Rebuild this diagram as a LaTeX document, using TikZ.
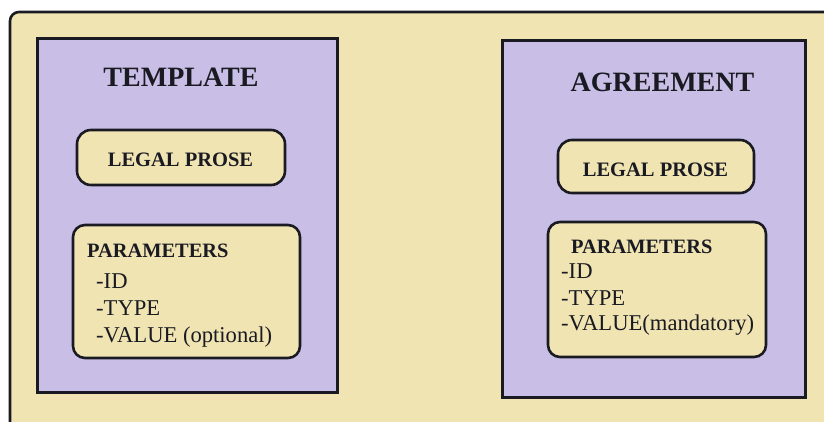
\documentclass[tikz,border=0pt]{standalone}
\usepackage{fontspec}
\setmainfont{Liberation Serif}
\definecolor{beige}{HTML}{F0E4B2}
\definecolor{lilac}{HTML}{C9BFE6}
\definecolor{ink}{HTML}{1A1A22}
\begin{document}
\begin{tikzpicture}[x=1pt,y=-1pt,
  outerbox/.style={draw=ink,line width=2.6pt,fill=beige,rounded corners=9pt},
  panel/.style={draw=ink,line width=3pt,fill=lilac,rectangle,inner sep=0pt},
  prosebox/.style={draw=ink,line width=2.6pt,fill=beige,rectangle,rounded corners=14pt,inner sep=0pt},
  parambox/.style={draw=ink,line width=2.6pt,fill=beige,rectangle,rounded corners=12pt,inner sep=0pt},
  titletext/.style={inner sep=0pt,anchor=base,text=ink,font=\fontsize{28}{32}\selectfont\bfseries},
  prosetext/.style={inner sep=0pt,anchor=base,text=ink,font=\fontsize{20.5}{24}\selectfont\bfseries},
  headtext/.style={inner sep=0pt,anchor=base west,text=ink,font=\fontsize{20.4}{24}\selectfont\bfseries},
  itemtext/.style={inner sep=0pt,anchor=base west,text=ink,font=\fontsize{22.6}{26}\selectfont}]
\useasboundingbox (0,0) rectangle (824,421);
\begin{scope}
\clip (0,0) rectangle (824,421);
\draw[outerbox] (10,12) rectangle (834,432);
\end{scope}
% left panel
\node[panel,minimum width=300pt,minimum height=354pt] (tpl) at (187,215) {};
\node[titletext] (tpltitle) at (181,86) {TEMPLATE};
\node[prosebox,minimum width=208pt,minimum height=55pt] (tplprose) at (181,157.5) {};
\node[prosetext] (tplprosetext) at (180.5,166) {LEGAL PROSE};
\node[parambox,minimum width=227pt,minimum height=133pt] (tplparam) at (186.5,291.5) {};
\node[headtext] (tplhead) at (87,257) {PARAMETERS};
\node[itemtext] (tplid) at (96,288) {-ID};
\node[itemtext] (tpltype) at (96,315) {-TYPE};
\node[itemtext] (tplvalue) at (96,342) {-VALUE (optional)};
% right panel
\node[panel,minimum width=303pt,minimum height=357pt] (agr) at (653.5,218.5) {};
\node[titletext] (agrtitle) at (662.5,91) {AGREEMENT};
\node[prosebox,minimum width=196pt,minimum height=53pt] (agrprose) at (656,166.5) {};
\node[prosetext] (agrprosetext) at (655.5,176) {LEGAL PROSE};
\node[parambox,minimum width=218pt,minimum height=135pt] (agrparam) at (657,289.5) {};
\node[headtext] (agrhead) at (571,253) {PARAMETERS};
\node[itemtext] (agrid) at (561,278) {-ID};
\node[itemtext] (agrtype) at (561,305) {-TYPE};
\node[itemtext] (agrvalue) at (561,330) {-VALUE(mandatory)};
\end{tikzpicture}
\end{document}
